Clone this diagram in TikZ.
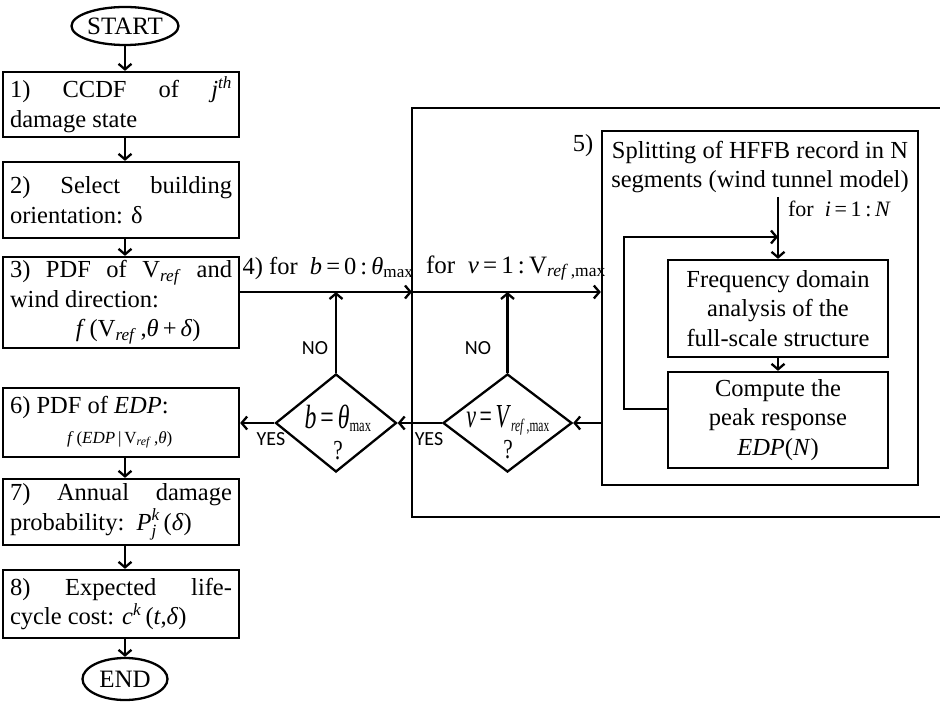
\documentclass[tikz,border=0pt]{standalone}
\usepackage{amsmath}
\usepackage{graphicx}
\usepackage{fontspec}
\setmainfont{Liberation Serif}
\newfontfamily\sansf{Carlito}
\usetikzlibrary{shapes.geometric,arrows.meta}
\newcommand{\iv}[1]{\textit{#1}}
\newcommand{\mi}[1]{\text{\itshape #1}}
\begin{document}
\begin{tikzpicture}[x=1pt,y=-1pt,
  every path/.style={line width=2.3pt},
  arr/.style={-{Straight Barb[length=5.5pt,width=13pt]}},
  stepbox/.style={draw,rectangle,line width=2.3pt,text width=222pt,inner xsep=7pt,inner ysep=0pt,
     align=justify,font=\fontsize{24.5}{29.5}\selectfont},
  term/.style={draw,ellipse,line width=2.3pt,inner sep=0pt,font=\fontsize{25}{29}\selectfont},
  cbox/.style={draw,rectangle,line width=2.3pt,minimum width=220pt,inner sep=0pt,align=center,
     font=\fontsize{24.5}{29.5}\selectfont},
  dia/.style={draw,diamond,line width=2.3pt,minimum width=121pt,minimum height=98pt,inner sep=0pt},
  dtext/.style={align=center,inner sep=0pt,font=\fontsize{28}{26}\selectfont},
  yn/.style={font=\sansf\fontsize{20}{22}\selectfont,inner sep=0pt},
  lbl/.style={inner sep=0pt,font=\fontsize{24.5}{29.5}\selectfont}]
\useasboundingbox (0,0) rectangle (940,719);

% left column
\node[term,minimum width=84pt,minimum height=38pt] (start) at (125,26) {START};
\node[stepbox,minimum height=65pt] (b1) at (121,104.5)
  {1)\ CCDF of \iv{j}\textsuperscript{\iv{th}}\linebreak damage state};
\node[stepbox,minimum height=76pt] (b2) at (121,200)
  {2)\ Select building\linebreak orientation: δ};
\node[stepbox,minimum height=91pt] (b3) at (121,302.5)
  {3)\ PDF of V\textsubscript{\iv{ref}} and\linebreak wind direction:\newline
   \hspace*{66pt}\iv{f}\,(V\textsubscript{\iv{ref}}\,,\iv{θ}\,+\,\iv{δ})};
\node[stepbox,minimum height=69pt] (b6) at (121,422.5)
  {6) PDF of \iv{EDP}:\newline
   \hspace*{57pt}{\fontsize{17}{24}\selectfont\iv{f}\,(\iv{EDP}\,|\,V\textsubscript{\iv{ref}}\,,\iv{θ})}};
\node[stepbox,minimum height=66pt] (b7) at (121,512)
  {7)\ Annual damage\linebreak probability:\ \ $\mi{P}^{\mi{k}}_{\mi{j}}$\,(\iv{δ})};
\node[stepbox,minimum height=68pt] (b8) at (121,604)
  {8)\ Expected life-\linebreak cycle cost: \iv{c}\textsuperscript{\iv{k}}\,(\iv{t},\iv{δ})};
\node[term,minimum width=85pt,minimum height=42pt] (end) at (125,679) {END};

\draw[arr] (start.south) -- (b1.north -| start.south);
\draw[arr] (b1.south -| start.south) -- (b2.north -| start.south);
\draw[arr] (b2.south -| start.south) -- (b3.north -| start.south);
\draw[arr] (b6.south -| start.south) -- (b7.north -| start.south);
\draw[arr] (b7.south -| start.south) -- (b8.north -| start.south);
\draw[arr] (b8.south -| start.south) -- (end.north);

% outer loop box (open to the right edge)
\draw (941,108) -- (412,108) -- (412,517) -- (941,517);
\coordinate (in1) at (412,292);

% inner box 5
\node[draw,rectangle,line width=2.3pt,minimum width=316pt,minimum height=354pt,inner sep=0pt] (b5) at (760,308) {};
\node[lbl] (n5) at (583,146) {5)};
\node[lbl,align=center] (split) at (760,167) {Splitting of HFFB record in N\\segments (wind tunnel model)};
\coordinate (itop) at (778,197);
\coordinate (ijoin) at (778,237);
\node[lbl,anchor=west,font=\fontsize{22}{26}\selectfont] (forI) at (787,209) {for\ \ \iv{i}\,=\,1\,:\,\iv{N}};
\node[cbox,minimum height=97pt] (freq) at (778,308.5) {Frequency domain\\analysis of the\\full-scale structure};
\node[cbox,minimum height=96pt] (comp) at (778,420) {Compute the\\peak response\\\iv{EDP}(\iv{N})};
\draw[arr] (itop) -- (freq.north);
\draw[arr] (freq.south) -- (comp.north);
\draw[arr] ([yshift=11pt]comp.west) -- (624,409) |- (ijoin);

% diamonds
\node[dia] (d1) at (336,423) {};
\node[dtext] (d1t) at (338,432)
  {\scalebox{0.85}[1.2]{\iv{b}\,=\,\iv{θ}{\fontsize{21}{20}\selectfont\textsubscript{max}}}\\[5pt]
   \scalebox{0.85}[1.1]{\fontsize{25}{24}\selectfont ?}};
\node[dia,minimum width=129pt] (d2) at (507.5,423) {};
\node[dtext] (d2t) at (508,432)
  {\scalebox{0.78}[1.2]{\iv{v}\,=\,\iv{V}{\fontsize{21}{20}\selectfont\textsubscript{\iv{ref}\,,max}}}\\[5pt]
   \scalebox{0.85}[1.1]{\fontsize{25}{24}\selectfont ?}};

% loop header lines and labels
\draw[arr] (b3.east |- in1) -- (in1);
\draw[arr] (in1) -- (b5.west |- in1);
\node[lbl] (l4) at (328,268) {4) for\ \ \iv{b}\,=\,0\,:\,\iv{θ}\textsubscript{max}};
\node[lbl,font=\fontsize{25}{29}\selectfont] (lv) at (516,268) {for\ \ \iv{v}\,=\,1\,:\,V\textsubscript{\iv{ref}\,,max}};

\draw[arr] (d1.north) -- (d1.north |- in1);
\draw[arr] (d2.north) -- (d2.north |- in1);
\node[yn] (no1) at (315,348) {NO};
\node[yn] (no2) at (478,348) {NO};

\draw[arr] (b5.west |- d2.east) -- (d2.east);
\draw[arr] (d2.west) -- (d1.east);
\draw[arr] (d1.west) -- (b6.east |- d1.west);
\node[yn] (yes1) at (271,439) {YES};
\node[yn] (yes2) at (429,439) {YES};
\end{tikzpicture}
\end{document}
